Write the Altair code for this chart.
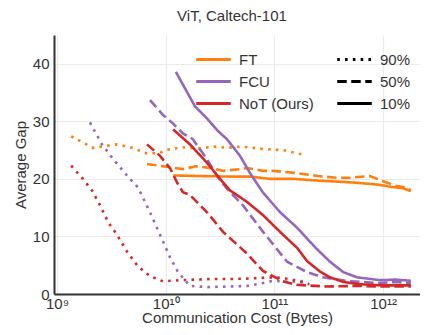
import altair as alt
import pandas as pd

# ---- data (x in bytes, y = average gap) ----
ft90_x = [1.35e9, 2.14e9, 3.56e9, 4.9e9, 6.73e9, 8.87e9, 1.0e10, 1.4e10, 2.0e10, 2.8e10, 3.66e10, 5.0e10, 7.86e10, 1.2e11, 1.83e11]
ft90_y = [27.4, 25.4, 26.0, 25.4, 24.4, 24.5, 25.0, 25.5, 25.3, 25.6, 25.4, 25.6, 25.2, 25.0, 24.2]

ft50_x = [6.73e9, 9.45e9, 1.44e10, 1.9e10, 2.56e10, 3.37e10, 4.83e10, 5.6e10, 7.86e10, 9.71e10, 1.62e11, 2.5e11, 3.7e11, 4.96e11, 7.58e11, 1.0e12, 1.3e12, 1.6e12, 1.8e12]
ft50_y = [22.6, 22.2, 21.7, 22.2, 21.9, 21.4, 21.7, 21.9, 21.4, 21.4, 21.0, 20.5, 20.2, 20.2, 20.5, 19.6, 18.8, 18.5, 18.0]

ft10_x = [1.17e10, 2.0e10, 3.9e10, 6.0e10, 9.1e10, 1.5e11, 2.5e11, 4.0e11, 6.0e11, 9.0e11, 1.2e12, 1.5e12, 1.8e12]
ft10_y = [20.6, 20.5, 20.4, 20.4, 20.0, 20.0, 19.7, 19.5, 19.3, 19.0, 18.6, 18.4, 17.9]

fcu90_x = [2.01e9, 2.59e9, 3.27e9, 4.4e9, 5.56e9, 7.17e9, 8.87e9, 1.10e10, 1.30e10, 1.67e10, 2.4e10, 3.9e10, 5.6e10, 7.9e10, 9.7e10, 1.4e11, 2.0e11]
fcu90_y = [29.8, 26.0, 23.5, 20.6, 18.5, 14.2, 10.3, 6.3, 3.8, 1.4, 1.2, 1.3, 1.4, 1.9, 2.3, 2.1, 2.3]

fcu50_x = [7.17e9, 9.45e9, 1.17e10, 1.44e10, 1.78e10, 2.4e10, 2.97e10, 3.66e10, 5.14e10, 7.86e10, 1.31e11, 2.0e11, 2.8e11, 4.96e11, 9.36e11, 1.3e12, 1.8e12]
fcu50_y = [33.7, 31.1, 29.6, 27.9, 26.9, 23.4, 20.5, 18.3, 15.4, 10.8, 5.6, 3.8, 2.9, 2.2, 1.9, 2.1, 1.9]

fcu10_x = [1.24e10, 1.86e10, 2.4e10, 3.03e10, 3.66e10, 4.83e10, 5.97e10, 7.86e10, 1.13e11, 1.62e11, 2.4e11, 3.25e11, 4.3e11, 5.75e11, 9.36e11, 1.3e12, 1.8e12]
fcu10_y = [38.6, 32.6, 30.5, 28.3, 26.9, 24.0, 21.0, 17.6, 14.2, 11.5, 8.0, 5.6, 3.8, 2.9, 2.4, 2.5, 2.3]

not90_x = [1.35e9, 1.73e9, 2.10e9, 2.49e9, 2.95e9, 3.56e9, 4.40e9, 5.56e9, 7.17e9, 9.45e9, 1.35e10, 2.56e10, 3.9e10, 6.0e10, 1.0e11, 1.4e11, 2.1e11]
not90_y = [22.3, 20.0, 18.0, 15.4, 12.5, 10.3, 7.4, 4.8, 3.1, 2.2, 2.4, 2.6, 2.6, 2.7, 2.9, 2.6, 1.7]

not50_x = [6.73e9, 8.87e9, 1.10e10, 1.27e10, 1.44e10, 1.67e10, 2.4e10, 3.37e10, 4.53e10, 5.6e10, 7.86e10, 1.2e11, 1.6e11, 3.0e11, 6.0e11, 1.0e12, 1.8e12]
not50_y = [26.0, 24.0, 21.8, 19.4, 17.7, 17.2, 14.2, 10.8, 8.6, 7.0, 4.0, 2.2, 1.6, 1.3, 1.4, 1.3, 1.3]

not10_x = [1.17e10, 1.67e10, 2.4e10, 3.16e10, 3.9e10, 5.6e10, 7.86e10, 9.71e10, 1.2e11, 1.62e11, 2.0e11, 2.63e11, 3.25e11, 4.3e11, 6.0e11, 1.0e12, 1.8e12]
not10_y = [28.6, 26.0, 22.8, 20.0, 18.0, 16.0, 13.7, 12.0, 10.3, 8.0, 5.7, 3.9, 2.9, 2.1, 1.7, 1.5, 1.5]

methods = ["FT", "FCU", "NoT (Ours)"]
fracs = ["90%", "50%", "10%"]
colors = ["#ff7f0e", "#9467bd", "#d62728"]

series = [
    ("FT", "90%", ft90_x, ft90_y), ("FT", "50%", ft50_x, ft50_y), ("FT", "10%", ft10_x, ft10_y),
    ("FCU", "90%", fcu90_x, fcu90_y), ("FCU", "50%", fcu50_x, fcu50_y), ("FCU", "10%", fcu10_x, fcu10_y),
    ("NoT (Ours)", "90%", not90_x, not90_y), ("NoT (Ours)", "50%", not50_x, not50_y), ("NoT (Ours)", "10%", not10_x, not10_y),
]
rows = []
for i, (m, f, xs, ys) in enumerate(series):
    for j, (xv, yv) in enumerate(zip(xs, ys)):
        rows.append({"method": m, "frac": f, "cost": xv, "gap": yv, "order": j, "z": i})
df = pd.DataFrame(rows)

FONT = "Liberation Sans"
LINE_SYMBOL = "M-1.5,0L1.5,0"

chart = alt.Chart(df).mark_line(strokeWidth=2.6, strokeCap="butt", clip=True).encode(
    x=alt.X("cost:Q", scale=alt.Scale(type="log", domain=[9.385e8, 2.185e12], nice=False),
            axis=alt.Axis(title="Communication Cost (Bytes)", values=[1e9, 1e10, 1e11, 1e12],
                          labelExpr="datum.value < 5e9 ? '10⁹' : datum.value < 5e10 ? '10¹⁰' : datum.value < 5e11 ? '10¹¹' : '10¹²'",
                          labelPadding=2, titlePadding=-1)),
    y=alt.Y("gap:Q", scale=alt.Scale(domain=[0, 45], nice=False),
            axis=alt.Axis(title="Average Gap", values=[0, 10, 20, 30, 40], labelPadding=5, titlePadding=4)),
    color=alt.Color("method:N", scale=alt.Scale(domain=methods, range=colors),
                    legend=alt.Legend(title=None, orient="none", legendX=146, legendY=11,
                                      symbolType=LINE_SYMBOL, symbolSize=530, symbolStrokeWidth=3,
                                      labelFontSize=15, labelOffset=12, rowPadding=0)),
    strokeDash=alt.StrokeDash("frac:N", scale=alt.Scale(domain=fracs, range=[[2.6, 5.2], [9.5, 4.5], [1, 0]]),
                              legend=alt.Legend(title=None, orient="none", legendX=287, legendY=11,
                                                symbolType=LINE_SYMBOL, symbolSize=530, symbolStrokeWidth=3,
                                                symbolStrokeColor="black",
                                                labelFontSize=15, labelOffset=12, rowPadding=0)),
    detail="z:N",
    order="order:Q",
).properties(
    width=366, height=259,
    title=alt.TitleParams("ViT, Caltech-101", fontSize=15, fontWeight="normal", font=FONT,
                          color="#333333", dx=-5, offset=11),
    padding={"left": 46, "top": 27, "right": 0, "bottom": 33},
    autosize=alt.AutoSizeParams(type="none"),
).configure_axis(
    labelFont=FONT, titleFont=FONT, labelFontSize=15, titleFontSize=15,
    labelColor="#333333", titleColor="#333333", titleFontWeight="normal",
    ticks=False, grid=True, gridColor="#ebebeb", gridWidth=1.2,
    domainColor="#333333", domainWidth=2,
).configure_legend(
    labelFont=FONT, labelColor="#333333", padding=0,
).configure_view(stroke=None)

chart.save("out.html", embed_options={"renderer": "svg", "actions": False})
